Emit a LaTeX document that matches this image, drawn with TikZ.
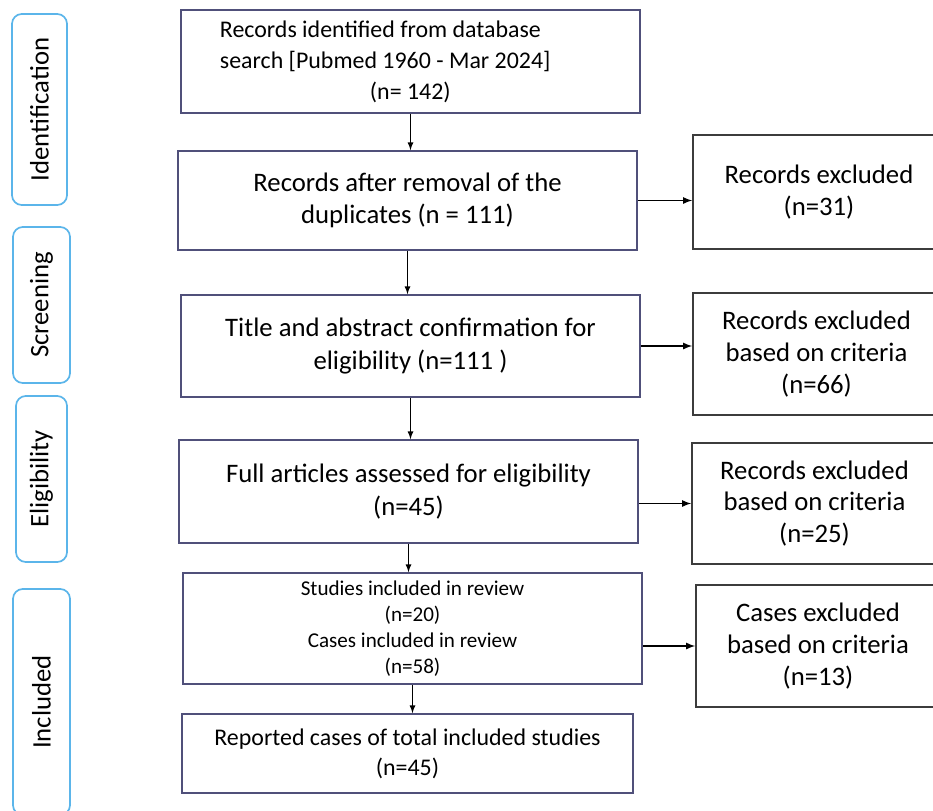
\documentclass[tikz,border=0pt]{standalone}
\usepackage{fontspec}
\setmainfont{Carlito}
\usepackage{xcolor}

\definecolor{boxline}{HTML}{50507A}
\definecolor{exline}{HTML}{3C3C3C}
\definecolor{stageline}{HTML}{5BB5EA}

\begin{document}
\begin{tikzpicture}[
  x=0.025cm, y=-0.025cm,
  block/.style={rectangle, draw=boxline, line width=1.2pt, minimum width=11.475cm, align=center, font=\fontsize{19}{23}\selectfont},
  excl/.style={rectangle, draw=exline, line width=1.2pt, align=center, font=\fontsize{19}{22.7}\selectfont},
  stage/.style={rectangle, rounded corners=7pt, draw=stageline, line width=1.2pt, rotate=90, font=\fontsize{19}{23}\selectfont},
  >=latex
]
\useasboundingbox (0,0) rectangle (933,810);

% stage labels on the left
\node[stage, minimum width=4.775cm, minimum height=1.375cm] (ident) at (39.5,109.5) {Identification};
\node[stage, minimum width=3.9cm, minimum height=1.425cm] (screen) at (41.5,305) {Screening};
\node[stage, minimum width=4.15cm, minimum height=1.275cm] (elig) at (41.5,479) {Eligibility};
\node[stage, minimum width=5.65cm, minimum height=1.425cm] (incl) at (41.5,702) {Included};

% main flow
\node[block, minimum height=2.575cm, text width=9.525cm, inner xsep=0.975cm, align=flush left, font=\fontsize{17}{22}\selectfont] (records) at (410.5,61.5)
  {Records identified from database\\search [Pubmed 1960 - Mar 2024]\\\hspace*{3.75cm}(n= 142)};
\node[block, minimum height=2.475cm] (dedup) at (407.5,200.5) {Records after removal of the\\duplicates (n = 111)};
\node[block, minimum height=2.55cm] (title) at (410.5,346) {Title and abstract confirmation for\\eligibility (n=111 )};
\node[block, minimum height=2.575cm] (full) at (408.5,491.5) {Full articles assessed for eligibility\\(n=45)};
\node[block, minimum height=2.775cm, font=\fontsize{15}{18.5}\selectfont] (studies) at (412.5,628.5)
  {Studies included in review\\(n=20)\\Cases included in review\\(n=58)};
\node[block, minimum width=11.275cm, minimum height=1.975cm, font=\fontsize{17}{21.5}\selectfont] (reported) at (407.5,753.5)
  {Reported cases of total included studies\\(n=45)};

% exclusions on the right
\node[excl, minimum width=6.3cm, minimum height=2.85cm] (ex1) at (819,192) {Records excluded\\(n=31)};
\node[excl, minimum width=6.175cm, minimum height=3.05cm] (ex2) at (816.5,354) {Records excluded\\based on criteria\\(n=66)};
\node[excl, minimum width=6.125cm, minimum height=3.025cm] (ex3) at (814.5,503.5) {Records excluded\\based on criteria\\(n=25)};
\node[excl, minimum width=6.1cm, minimum height=3.05cm] (ex4) at (818,646) {Cases excluded\\based on criteria\\(n=13)};

\draw[->,line width=0.9pt] (records.south) -- (records.south |- dedup.north);
\draw[->,line width=0.9pt] (dedup.south) -- (dedup.south |- title.north);
\draw[->,line width=0.9pt] (title.south) -- (title.south |- full.north);
\draw[->,line width=0.9pt] (full.south) -- (full.south |- studies.north);
\draw[->,line width=0.9pt] (studies.south) -- (studies.south |- reported.north);

\draw[->,line width=1.2pt] (dedup.east) -- (dedup.east -| ex1.west);
\draw[->,line width=1.2pt] (title.east) -- (title.east -| ex2.west);
\draw[->,line width=1.2pt] (ex3.west -| full.east) -- (ex3.west);
\draw[->,line width=1.2pt] (ex4.west -| studies.east) -- (ex4.west);
\end{tikzpicture}
\end{document}
